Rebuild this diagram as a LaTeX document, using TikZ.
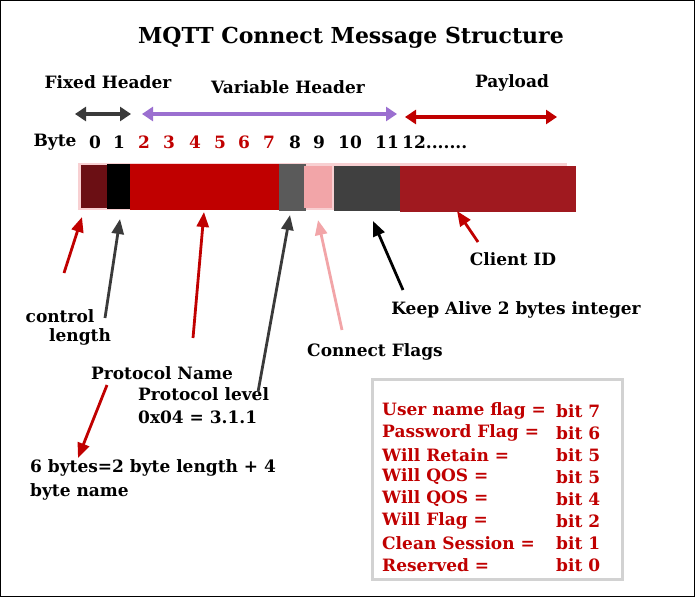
\documentclass[tikz,border=0pt]{standalone}
\usepackage{fontspec}
\setmainfont{DejaVu Serif}
\usepackage{tikz}
\usetikzlibrary{arrows.meta}

\definecolor{segmaroon}{HTML}{6B0F14}
\definecolor{segred}{HTML}{C00000}
\definecolor{seggray}{HTML}{5A5A5A}
\definecolor{segpink}{HTML}{F2A5A8}
\definecolor{segdark}{HTML}{404040}
\definecolor{segwine}{HTML}{A0191F}
\definecolor{barpink}{HTML}{F8D0D2}
\definecolor{spanpurple}{HTML}{9B6FD0}
\definecolor{arrowgray}{HTML}{3A3A3A}

\begin{document}
\begin{tikzpicture}[
		x=1pt, y=-1pt,
		every node/.style={font=\bfseries\fontsize{17}{20}\selectfont, inner sep=1pt},
		title/.style={font=\bfseries\fontsize{22}{26}\selectfont},
		seg/.style={draw=none, minimum height=44pt, inner sep=0pt, anchor=north west},
		span/.style={{Triangle[length=11pt,width=14pt]}-{Triangle[length=11pt,width=14pt]}, line width=3.5pt},
		point/.style={-{Triangle[length=15pt,width=12pt]}, line width=2.8pt},
		flagtxt/.style={text=segred, anchor=west}
		]
		
		\useasboundingbox (0,0) rectangle (695,597);
		\draw[black, line width=1.2pt] (0.6,0.6) rectangle (694.4,596.4);
		
		% title and header spans
		\node[title] (ttl) at (351,38) {MQTT Connect Message Structure};
		\node (fixed) at (108,82) {Fixed Header};
		\node (var) at (288,87) {Variable Header};
		\node (pay) at (512,83) {Payload};
		\coordinate (fixA) at (75,114);
		\coordinate (fixB) at (131,114);
		\coordinate (varA) at (142,114);
		\coordinate (varB) at (397,114);
		\coordinate (payA) at (405,117);
		\coordinate (payB) at (557,117);
		\draw[span, arrowgray] (fixA) -- (fixB);
		\draw[span, spanpurple] (varA) -- (varB);
		\draw[span, segred] (payA) -- (payB);
		
		% byte numbers
		\node (byte) at (55,142) {Byte};
		\foreach \n/\x/\c in {0/95/black, 1/119/black, 2/144/segred, 3/169/segred, 4/195/segred,
			5/220/segred, 6/244/segred, 7/269/segred, 8/295/black, 9/319/black, 10/350/black, 11/387/black}
		\node[text=\c] (n\n) at (\x,142) {\n};
		\node[anchor=west] (n12) at (401,142) {12.......};
		
		% the byte bar
		\fill[barpink] (78,163) rectangle (567,210);
		\node[seg, fill=segmaroon, minimum width=26pt, minimum height=43pt] (b0) at (80.5,165) {};
		\node[seg, fill=black, minimum width=24pt, minimum height=45pt] (b1) at (106.5,164) {};
		\node[seg, fill=segred, minimum width=149pt, minimum height=46pt] (b2) at (130,164) {};
		\node[seg, fill=seggray, minimum width=27pt, minimum height=47pt] (b8) at (279,164) {};
		\node[seg, fill=segpink, minimum width=28pt, minimum height=42pt] (b9) at (304,165.5) {};
		\node[seg, fill=segdark, minimum width=66pt, minimum height=45pt] (b10) at (334,165.5) {};
		\node[seg, fill=segwine, minimum width=176pt, minimum height=46pt] (b12) at (400,165.5) {};
		
		% labels below
		\node (ctrl) at (60,316) {control};
		\node (len) at (80,337) {length};
		\node (pname) at (162,373) {Protocol Name};
		\node[anchor=west] (plevel) at (137,394) {Protocol level};
		\node[anchor=west] (pver) at (137,417) {0x04 = 3.1.1};
		\node[anchor=west] (six) at (29,468) {6 bytes=2 byte length + 4};
		\node[anchor=west] (sixb) at (29,492) {byte name};
		\node (cflags) at (375,352) {Connect Flags};
		\node (keep) at (516,310) {Keep Alive 2 bytes integer};
		\node (cid) at (513,259) {Client ID};
		
		% pointers
		\coordinate (t0) at (64,273);  \coordinate (h0) at (82,217);
		\coordinate (t1) at (105,318); \coordinate (h1) at (120,219);
		\coordinate (t2) at (193,338); \coordinate (h2) at (204,212);
		\coordinate (t8) at (258,392); \coordinate (h8) at (290,215);
		\coordinate (t9) at (342,330); \coordinate (h9) at (318,220);
		\coordinate (t10) at (403,290); \coordinate (h10) at (373,221);
		\coordinate (t12) at (478,242); \coordinate (h12) at (457,211);
		\coordinate (tp) at (107,385); \coordinate (hp) at (78,458);
		\draw[point, segred] (t0) -- (h0);
		\draw[point, arrowgray] (t1) -- (h1);
		\draw[point, segred] (t2) -- (h2);
		\draw[point, arrowgray] (t8) -- (h8);
		\draw[point, segpink] (t9) -- (h9);
		\draw[point, black] (t10) -- (h10);
		\draw[point, segred] (t12) -- (h12);
		\draw[point, segred] (tp) -- (hp);
		
		% connect flags box
		\node[draw=gray!35, line width=3pt, fill=white, minimum width=250pt, minimum height=200pt] (flags) at (497,479) {};
		\foreach \name/\bit [count=\i] in {User name flag =/7, Password Flag =/6, Will Retain =/5, Will QOS =/5,
			Will QOS =/4, Will Flag =/2, Clean Session =/1, Reserved =/0}
		{
			\node[flagtxt] (f\i) at (381,389+22*\i) {\name};
			\node[flagtxt] (v\i) at (555,389+22*\i) {bit \bit};
		}
		
\end{tikzpicture}
\end{document}
